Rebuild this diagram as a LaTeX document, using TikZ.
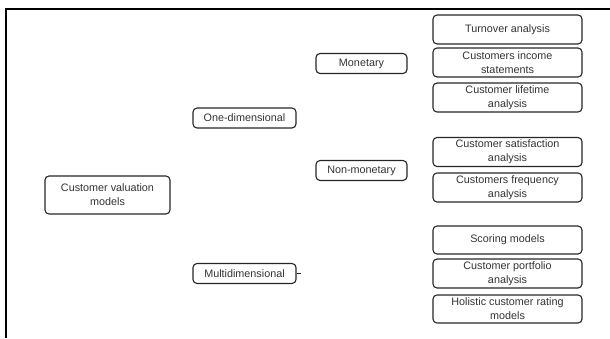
\documentclass[tikz,border=0pt]{standalone}
\usepackage{fontspec}
\setmainfont{Liberation Sans}
\begin{document}
\begin{tikzpicture}[x=1pt,y=-1pt,
  box/.style={draw=black!85, line width=1.1pt, rounded corners=4pt,
    inner sep=0pt, align=center, text=black!80,
    font=\fontsize{10.8}{14}\selectfont},
  leafbox/.style={box, minimum width=149pt, minimum height=29pt}]
\useasboundingbox (0,0) rectangle (610,338);
% frame edges
\draw[line width=2pt] (6,338) -- (6,9) -- (610,9);

% root and first level
\node[box, minimum width=125pt, minimum height=38pt] (cvm) at (107.5,195) {Customer valuation\\models};
\node[box, minimum width=103pt, minimum height=20pt] (one) at (244.5,118) {One-dimensional};
\node[box, minimum width=103pt, minimum height=20pt] (multi) at (244.5,273.5) {Multidimensional};

% second level
\node[box, minimum width=91pt, minimum height=20pt] (mon) at (361.5,63.5) {Monetary};
\node[box, minimum width=91pt, minimum height=20pt] (non) at (361.5,170.5) {Non-monetary};

% leaves
\node[leafbox] (turn) at (507.5,29.5) {Turnover analysis};
\node[leafbox] (inc)  at (507.5,62.5) {Customers income\\statements};
\node[leafbox] (life) at (507.5,97.5) {Customer lifetime\\analysis};
\node[leafbox] (sat)  at (507.5,152) {Customer satisfaction\\analysis};
\node[leafbox] (freq) at (507.5,187.5) {Customers frequency\\analysis};
\node[leafbox, minimum height=28pt] (scor) at (507.5,240) {Scoring models};
\node[leafbox] (port) at (507.5,273.5) {Customer portfolio\\analysis};
\node[leafbox, minimum height=28pt] (hol)  at (507.5,309) {Holistic customer rating\\models};

% short stub on the right of the multidimensional branch
\coordinate (mstub) at ([xshift=4pt]multi.east);
\draw[black!85, line width=1.1pt] (multi.east) -- (mstub);
\end{tikzpicture}
\end{document}
